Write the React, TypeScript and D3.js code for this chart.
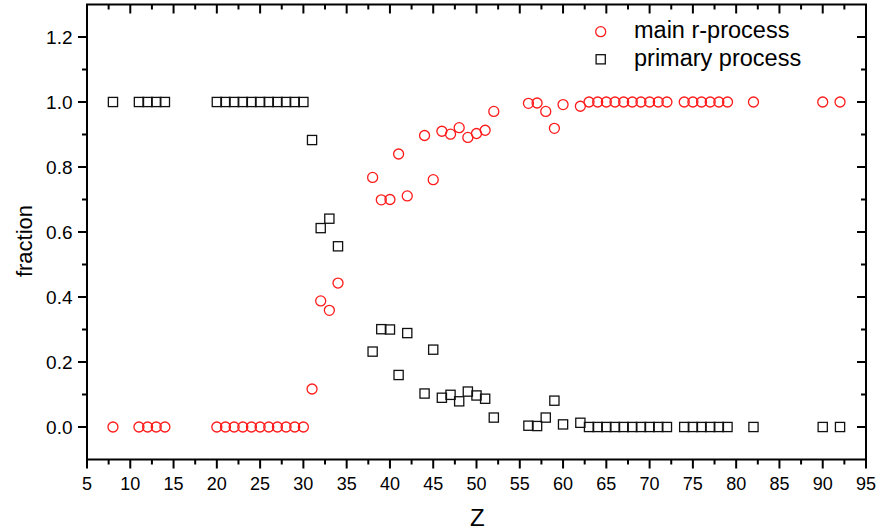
import React from "react";
import * as d3 from "d3";

const W = 876;
const H = 531;

// atomic number
const Z = [
  8, 11, 12, 13, 14, 20, 21, 22, 23, 24, 25, 26, 27, 28, 29, 30, 31, 32, 33, 34,
  38, 39, 40, 41, 42, 44, 45, 46, 47, 48, 49, 50, 51, 52, 56, 57, 58, 59, 60, 62,
  63, 64, 65, 66, 67, 68, 69, 70, 71, 72, 74, 75, 76, 77, 78, 79, 82, 90, 92,
];

const mainR = [
  0, 0, 0, 0, 0, 0, 0, 0, 0, 0, 0, 0, 0, 0, 0, 0, 0.117, 0.388, 0.359, 0.443,
  0.768, 0.699, 0.7, 0.84, 0.711, 0.897, 0.761, 0.91, 0.901, 0.921, 0.891, 0.903, 0.913, 0.971, 0.996, 0.997, 0.971, 0.919, 0.992, 0.987,
  1, 1, 1, 1, 1, 1, 1, 1, 1, 1, 1, 1, 1, 1, 1, 1, 1, 1, 1,
];

const primary = [
  1, 1, 1, 1, 1, 1, 1, 1, 1, 1, 1, 1, 1, 1, 1, 1, 0.883, 0.612, 0.641, 0.556,
  0.232, 0.301, 0.3, 0.16, 0.289, 0.103, 0.238, 0.09, 0.099, 0.079, 0.109, 0.097, 0.087, 0.029, 0.004, 0.003, 0.029, 0.081, 0.008, 0.013,
  0, 0, 0, 0, 0, 0, 0, 0, 0, 0, 0, 0, 0, 0, 0, 0, 0, 0, 0,
];

const xTicks = [5, 10, 15, 20, 25, 30, 35, 40, 45, 50, 55, 60, 65, 70, 75, 80, 85, 90, 95];
const yTicks = [0, 0.2, 0.4, 0.6, 0.8, 1.0, 1.2];

const LEFT = 87;
const RIGHT = 866;
const TOP = 4.5;
const BOTTOM = 459.5;
const FONT = "'Liberation Sans', Arial, sans-serif";

export default function App() {
  const x = d3.scaleLinear().domain([5, 95]).range([LEFT, RIGHT]);
  const y = d3.scaleLinear().domain([-0.1, 1.3]).range([BOTTOM, TOP]);

  const xMinor = d3.range(7.5, 95, 5);
  const yMinor = d3.range(-0.1, 1.31, 0.2).filter((v) => v > -0.05 && v < 1.25);

  const tickStyle = { stroke: "#000", strokeWidth: 2 };

  return (
    <svg width={W} height={H} style={{ position: "absolute", left: 0, top: 0, background: "#fff" }} fontFamily={FONT}>
      {/* bottom + top ticks */}
      {xTicks.map((t) => (
        <g key={"xt" + t}>
          <line x1={x(t)} x2={x(t)} y1={BOTTOM} y2={BOTTOM + 9} {...tickStyle} />
          <line x1={x(t)} x2={x(t)} y1={TOP} y2={TOP + 9} {...tickStyle} />
          <text x={x(t)} y={489.5} textAnchor="middle" fontSize={18}>
            {t}
          </text>
        </g>
      ))}
      {xMinor.map((t) => (
        <g key={"xm" + t}>
          <line x1={x(t)} x2={x(t)} y1={BOTTOM} y2={BOTTOM + 5} {...tickStyle} />
          <line x1={x(t)} x2={x(t)} y1={TOP} y2={TOP + 5} {...tickStyle} />
        </g>
      ))}
      {/* left + right ticks */}
      {yTicks.map((t) => (
        <g key={"yt" + t}>
          <line x1={LEFT - 9} x2={LEFT} y1={y(t)} y2={y(t)} {...tickStyle} />
          <line x1={RIGHT - 9} x2={RIGHT} y1={y(t)} y2={y(t)} {...tickStyle} />
          <text x={72.5} y={y(t) + 6.8} textAnchor="end" fontSize={19}>
            {t.toFixed(1)}
          </text>
        </g>
      ))}
      {yMinor.map((t) => (
        <g key={"ym" + t}>
          <line x1={LEFT - 5} x2={LEFT} y1={y(t)} y2={y(t)} {...tickStyle} />
          <line x1={RIGHT - 5} x2={RIGHT} y1={y(t)} y2={y(t)} {...tickStyle} />
        </g>
      ))}
      <rect x={LEFT} y={TOP} width={RIGHT - LEFT} height={BOTTOM - TOP} fill="none" stroke="#000" strokeWidth={2} />

      {/* primary process */}
      {Z.map((z, i) => (
        <rect
          key={"p" + z}
          x={x(z) - 4.6}
          y={y(primary[i]) - 4.6}
          width={9.2}
          height={9.2}
          fill="none"
          stroke="#111"
          strokeWidth={1.3}
        />
      ))}
      {/* main r-process */}
      {Z.map((z, i) => (
        <circle key={"m" + z} cx={x(z)} cy={y(mainR[i])} r={5} fill="none" stroke="#ff1a1a" strokeWidth={1.3} />
      ))}

      {/* legend */}
      <circle cx={600.7} cy={31.7} r={5} fill="none" stroke="#ff1a1a" strokeWidth={1.3} />
      <text x={634} y={38} fontSize={23.5}>
        main r-process
      </text>
      <rect x={596.1} y={54.7} width={9.2} height={9.2} fill="none" stroke="#111" strokeWidth={1.3} />
      <text x={634} y={66} fontSize={23.5}>
        primary process
      </text>

      {/* axis titles */}
      <text x={x(50.1)} y={526} textAnchor="middle" fontSize={24}>
        Z
      </text>
      <text transform={`translate(32, 241) rotate(-90)`} textAnchor="middle" fontSize={22}>
        fraction
      </text>
    </svg>
  );
}
